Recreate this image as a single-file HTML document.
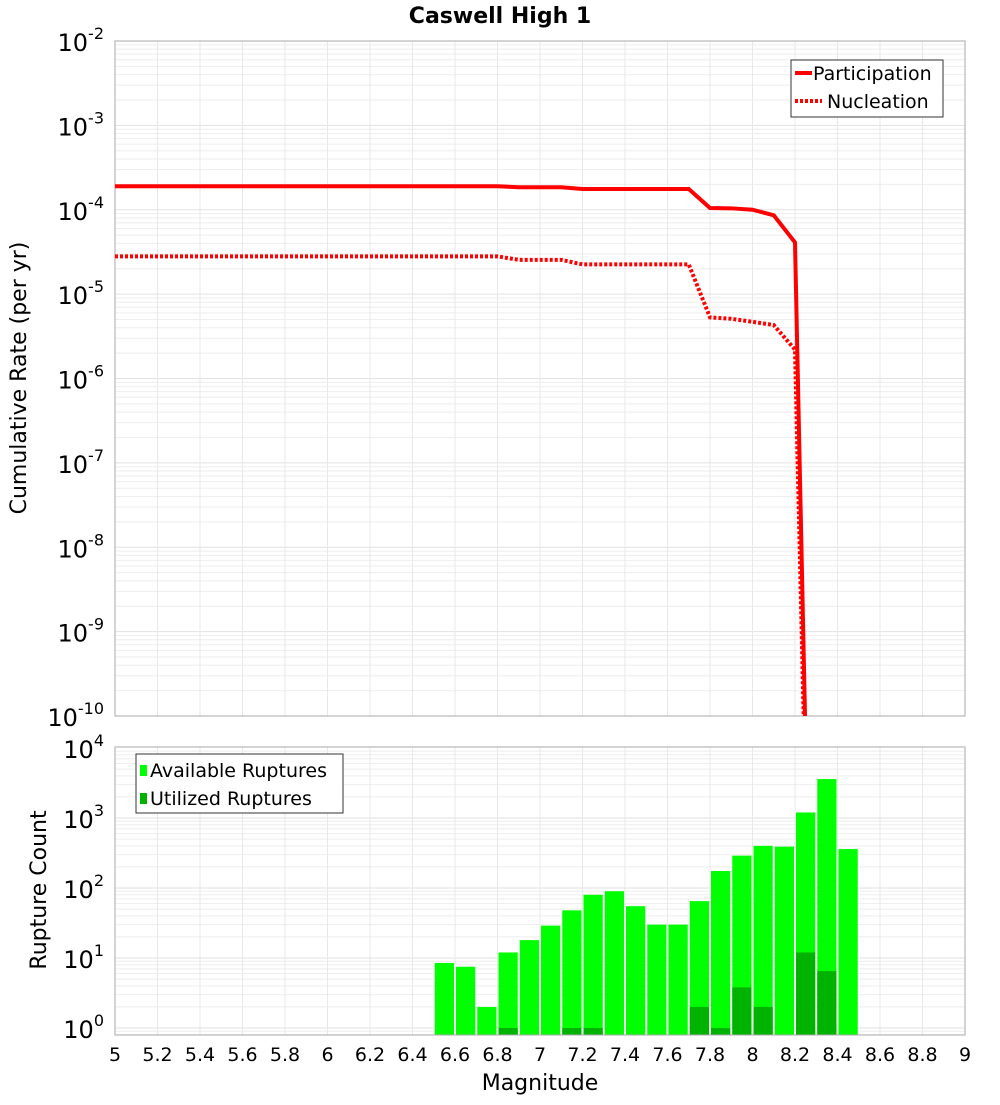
<!DOCTYPE html>
<html><head><meta charset="utf-8"><style>
body{margin:0;background:#fff;font-family:"Liberation Sans","DejaVu Sans",sans-serif}
svg text{font-family:"DejaVu Sans","Liberation Sans",sans-serif}
</style></head><body>
<svg id="c" width="1000" height="1100" xmlns="http://www.w3.org/2000/svg">
<text x="500" y="23" text-anchor="middle" font-size="22" font-weight="bold">Caswell High 1</text>
<g id="topg"></g><g id="botg"></g>
<text transform="translate(26,378) rotate(-90)" text-anchor="middle" font-size="22">Cumulative Rate (per yr)</text>
<text transform="translate(46,890) rotate(-90)" text-anchor="middle" font-size="22">Rupture Count</text>
<text x="540" y="1090" text-anchor="middle" font-size="22">Magnitude</text>
</svg>
<script>
const mags=[5,5.1,5.2,5.3,5.4,5.5,5.6,5.7,5.8,5.9,6,6.1,6.2,6.3,6.4,6.5,6.6,6.7,6.8,6.9,7,7.1,7.2,7.3,7.4,7.5,7.6,7.7,7.8,7.9,8,8.1,8.2,8.3];
const participation=[1.9e-4,1.9e-4,1.9e-4,1.9e-4,1.9e-4,1.9e-4,1.9e-4,1.9e-4,1.9e-4,1.9e-4,1.9e-4,1.9e-4,1.9e-4,1.9e-4,1.9e-4,1.9e-4,1.9e-4,1.9e-4,1.9e-4,1.85e-4,1.85e-4,1.85e-4,1.76e-4,1.76e-4,1.76e-4,1.76e-4,1.76e-4,1.76e-4,1.05e-4,1.04e-4,1.0e-4,8.6e-5,4.1e-5,5e-17];
const nucleation=[2.8e-5,2.8e-5,2.8e-5,2.8e-5,2.8e-5,2.8e-5,2.8e-5,2.8e-5,2.8e-5,2.8e-5,2.8e-5,2.8e-5,2.8e-5,2.8e-5,2.8e-5,2.8e-5,2.8e-5,2.8e-5,2.8e-5,2.55e-5,2.55e-5,2.55e-5,2.25e-5,2.25e-5,2.25e-5,2.25e-5,2.25e-5,2.25e-5,5.3e-6,5.1e-6,4.7e-6,4.3e-6,2.2e-6,5e-17];
const binMags=[6.5,6.6,6.7,6.8,6.9,7.0,7.1,7.2,7.3,7.4,7.5,7.6,7.7,7.8,7.9,8.0,8.1,8.2,8.3,8.4];
const available=[8.5,7.5,2,12,18,29,48,80,90,55,30,30,65,175,290,400,390,1200,3600,360];
const utilized=[0,0,0,1,0,0,1,1,0,0,0,0,2,1,3.8,2,0,12,6.5,0];
const xTicks=[5,5.2,5.4,5.6,5.8,6,6.2,6.4,6.6,6.8,7,7.2,7.4,7.6,7.8,8,8.2,8.4,8.6,8.8,9];
const topExp=[-2,-3,-4,-5,-6,-7,-8,-9,-10];
const botExp=[0,1,2,3,4];
const NS="http://www.w3.org/2000/svg";
const L=115,R=965;
const X=m=>L+(m-5)/4*(R-L);
const T0=41,T1=716;const YT=v=>T0+(-2-Math.log10(v))/8*(T1-T0);
const B0=747,B1=1035;const YB=v=>1028-Math.log10(v)*70;
function mk(p,t,a){const e=document.createElementNS(NS,t);for(const k in a)e.setAttribute(k,a[k]);p.appendChild(e);return e;}
const topG=document.getElementById('topg'),botG=document.getElementById('botg'),svgEl=document.getElementById('c');
const defs=mk(svgEl,'defs',{});
const c1=mk(defs,'clipPath',{id:'ct'});mk(c1,'rect',{x:L,y:T0,width:R-L,height:T1-T0});
const c2=mk(defs,'clipPath',{id:'cb'});mk(c2,'rect',{x:L,y:B0,width:R-L,height:B1-B0});
function grid(g,y0,y1,yf,eMin,eMax){
 for(let e=eMin;e<eMax;e++)for(let k=1;k<10;k++){const y=yf(k*Math.pow(10,e));if(y<y0||y>y1)continue;
  const l=mk(g,'line',{x1:L,x2:R,y1:y,y2:y,stroke:k==1?'#e2e2e2':'#eeeeee','stroke-width':1});
  
  }
 xTicks.forEach(t=>{const l=mk(g,'line',{x1:X(t),x2:X(t),y1:y0,y2:y1,stroke:'#e8e8e8','stroke-width':1});
  
  });
}
grid(topG,T0,T1,YT,-10,-2);
grid(botG,B0,B1,YB,-1,4);
function powLabel(g,y,e,name){
 const t=mk(g,'text',{x:104,y:y+10,'text-anchor':'end','font-size':24});
 const a=mk(t,'tspan',{});a.textContent='10';
 const b=mk(t,'tspan',{dy:-12,'font-size':16});b.textContent=String(e);
 
 
}
let f=mk(topG,'rect',{x:L,y:T0,width:R-L,height:T1-T0,fill:'none',stroke:'#aaa'});


topExp.forEach(e=>powLabel(topG,YT(Math.pow(10,e)),e,'top-y-tick-label'));
function line(vals,dash,name){const pts=mags.map((m,i)=>X(m)+','+YT(vals[i])).join(' ');
 const p=mk(topG,'polyline',{points:pts,fill:'none',stroke:'#ff0000','stroke-width':4,'clip-path':'url(#ct)'});
 if(dash)p.setAttribute('stroke-dasharray','3,2');
 
 }
line(participation,false,'participation-line');line(nucleation,true,'nucleation-line');
let lg=mk(topG,'rect',{x:791,y:60,width:152,height:57,fill:'#fff',stroke:'#333'});


let ll=mk(topG,'line',{x1:795,x2:812,y1:73,y2:73,stroke:'#f00','stroke-width':4});


ll=mk(topG,'line',{x1:795,x2:822,y1:101,y2:101,stroke:'#f00','stroke-width':4,'stroke-dasharray':'3,2'});


let lt=mk(topG,'text',{x:813,y:80,'font-size':19});lt.textContent='Participation';


lt=mk(topG,'text',{x:827,y:108,'font-size':19});lt.textContent='Nucleation';


const bw=(X(5.1)-X(5))-2;
binMags.forEach((m,i)=>{const y=YB(available[i]);
 const r=mk(botG,'rect',{x:X(m)+1,y:y,width:bw,height:B1-y,fill:'#00ff00','clip-path':'url(#cb)'});
 
 
 if(utilized[i]>0){const yu=YB(utilized[i]);
  const u=mk(botG,'rect',{x:X(m)+1,y:yu,width:bw,height:B1-yu,fill:'#00b300','clip-path':'url(#cb)'});
  
  }
});
f=mk(botG,'rect',{x:L,y:B0,width:R-L,height:B1-B0,fill:'none',stroke:'#aaa'});


botExp.forEach(e=>powLabel(botG,YB(Math.pow(10,e)),e,'bottom-y-tick-label'));
xTicks.forEach(t=>{const tx=mk(botG,'text',{x:X(t),y:1061,'text-anchor':'middle','font-size':19});tx.textContent=String(t);
 
 });
lg=mk(botG,'rect',{x:136,y:754,width:207,height:59,fill:'#fff',stroke:'#333'});


let s=mk(botG,'rect',{x:140,y:765,width:7,height:11,fill:'#00ff00'});


s=mk(botG,'rect',{x:140,y:793,width:7,height:11,fill:'#00b300'});


lt=mk(botG,'text',{x:150,y:777,'font-size':19});lt.textContent='Available Ruptures';


lt=mk(botG,'text',{x:150,y:805,'font-size':19});lt.textContent='Utilized Ruptures';


</script>
</body></html>
